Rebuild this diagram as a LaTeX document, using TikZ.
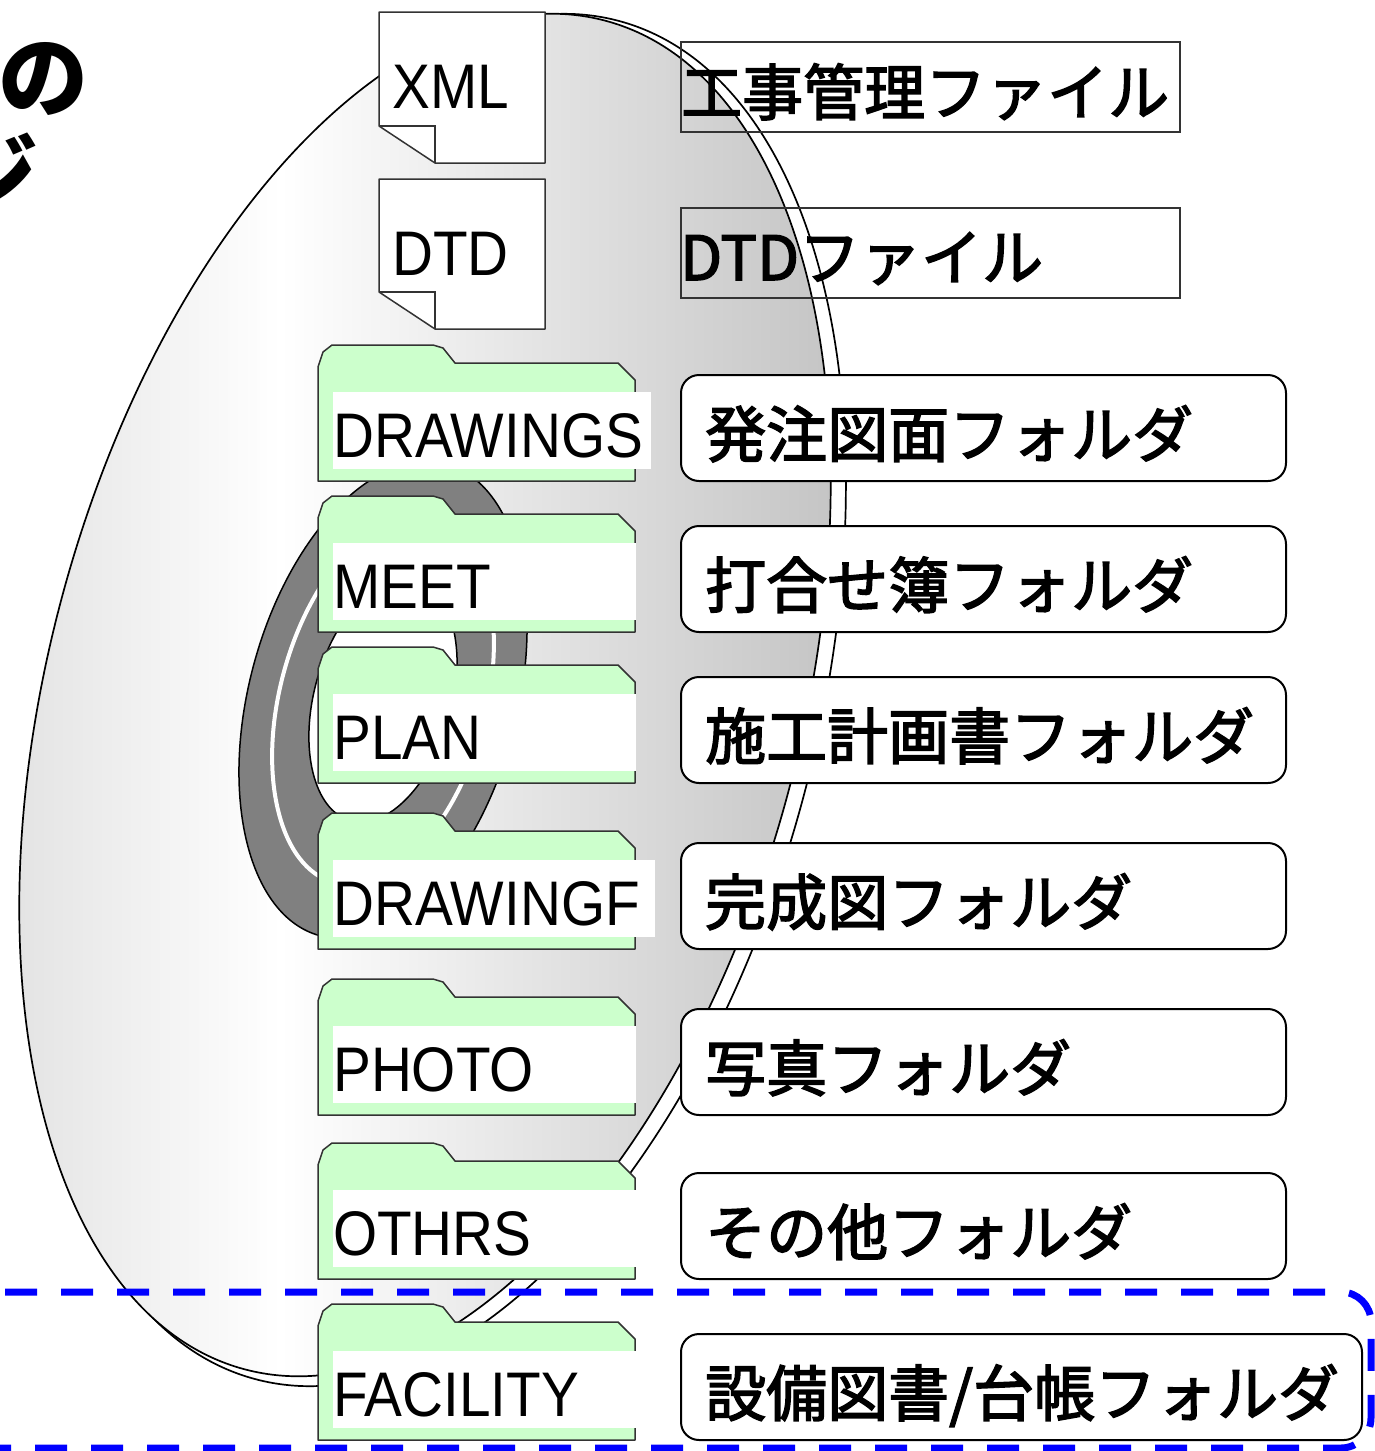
\documentclass[tikz,border=0pt]{standalone}
\usepackage{fontspec}
\setmainfont{Liberation Sans}
\newfontfamily\latinfont{Liberation Sans}[FakeStretch=0.9]
\newfontfamily\jpfont{Noto Sans CJK JP}
\newfontfamily\jplabelfont{Noto Sans CJK JP}[FakeBold=2.5]

\definecolor{foldergreen}{HTML}{CCFFCC}
\definecolor{hubgray}{HTML}{808080}
\definecolor{discdark}{HTML}{C2C2C2}
\definecolor{discleft}{HTML}{E2E2E2}
\definecolor{edgegray}{HTML}{333333}

\tikzset{
  folderbox/.style={fill=foldergreen, draw=edgegray, line width=1.5pt, line join=round},
  tagbox/.style={fill=white},
  docpaper/.style={fill=white, draw=edgegray, line width=1.5pt, line join=round},
  foldline/.style={draw=edgegray, line width=1.5pt},
  latintext/.style={anchor=base west, inner sep=0pt, font=\latinfont\fontsize{63}{70}\selectfont},
  filebox/.style={draw=edgegray, line width=2pt},
  labelbox/.style={fill=white, draw=black, line width=2pt, rounded corners=18pt},
  labeltext/.style={anchor=base west, inner sep=0pt, font=\jplabelfont\fontsize{61}{70}\selectfont},
  titletext/.style={anchor=base west, inner sep=0pt, font=\jpfont\bfseries\fontsize{90}{100}\selectfont},
  discline/.style={draw=black, line width=1.7pt},
}

% folder icon: name, bottom edge, right end of the white tag, caption
\newcommand\folderat[4]{%
  \path[folderbox] (318,#2) -- (318,#2-114) -- (323,#2-129) -- (332,#2-136)
    -- (433,#2-136) -- (443,#2-133) -- (455,#2-118) -- (618,#2-118)
    -- (635,#2-101) -- (635,#2) -- cycle;
  \fill[tagbox] (333,#2-89) rectangle (#3,#2-12);
  \node[latintext] (#1) at (333,#2-24) {#4};
}
% document icon with a folded corner: name, top edge, height, caption
\newcommand\docat[4]{%
  \path[docpaper] (379,#2) -- (545,#2) -- (545,#2+#3) -- (435,#2+#3)
    -- (379,#2+#3-37) -- cycle;
  \draw[foldline] (379,#2+#3-37) -- (435,#2+#3-37) -- (435,#2+#3);
  \node[latintext] (#1) at (392,#2+96) {#4};
}
% rounded caption box: name, bottom edge, right edge, caption
\newcommand\labelat[4]{%
  \draw[labelbox] (681,#2-106) rectangle (#3,#2);
  \node[labeltext] (#1) at (705,#2-24) {#4};
}

\begin{document}
\begin{tikzpicture}[x=1pt,y=-1pt]
\useasboundingbox (0,0) rectangle (1375,1451);
\clip (0,0) rectangle (1375,1451);
\fill[white] (0,0) rectangle (1375,1451);

% disc: back rim
\path[discline, fill=white, rotate around={75:(437,700)}]
  (437,700) ellipse [x radius=703, y radius=379];
% disc: shaded face
\begin{scope}
  \clip[rotate around={75:(425,695)}] (425,695) ellipse [x radius=698, y radius=376];
  \fill[left color=discleft, right color=white] (0,0) rectangle (281,1451);
  \fill[left color=white, right color=discdark] (280,0) rectangle (860,1451);
\end{scope}
\path[discline, rotate around={75:(425,695)}]
  (425,695) ellipse [x radius=698, y radius=376];

% centre hub
\path[fill=hubgray, draw=black, line width=1.5pt, rotate around={75:(383,700)}]
  (383,700) ellipse [x radius=244, y radius=134];
\draw[white, line width=4pt, rotate around={75:(383,700)}]
  (383,700) ellipse [x radius=189, y radius=103];
\path[fill=white, draw=black, line width=1.5pt, rotate around={75:(383,700)}]
  (383,700) ellipse [x radius=125, y radius=69];

% file icons
\docat{xmldoc}{12}{151}{XML}
\docat{dtddoc}{179}{150}{DTD}

% file captions
\draw[filebox] (681,42) rectangle (1180,132);
\node[labeltext] (xmlname) at (681,115) {工事管理ファイル};
\draw[filebox] (681,208) rectangle (1180,298);
\node[labeltext] (dtdname) at (680,280) {DTDファイル};

% folders
\folderat{drawings}{481}{651}{DRAWINGS}
\folderat{meet}{632}{636}{MEET}
\folderat{plan}{783}{636}{PLAN}
\folderat{drawingf}{949}{655}{DRAWINGF}
\folderat{photo}{1115}{636}{PHOTO}
\folderat{othrs}{1279}{636}{OTHRS}
\folderat{facility}{1440}{636}{FACILITY}

% folder captions
\labelat{drawingsname}{481}{1286}{発注図面フォルダ}
\labelat{meetname}{632}{1286}{打合せ簿フォルダ}
\labelat{planname}{783}{1286}{施工計画書フォルダ}
\labelat{drawingfname}{949}{1286}{完成図フォルダ}
\labelat{photoname}{1115}{1286}{写真フォルダ}
\labelat{othrsname}{1279}{1286}{その他フォルダ}
\labelat{facilityname}{1440}{1362}{設備図書/台帳フォルダ}

% heading
\node[titletext] (headA) at (-2,110) {の};
\node[titletext] (headB) at (-52,207) {ジ};

% highlighted group
\draw[blue, line width=7pt, dash pattern=on 32pt off 24pt, dash phase=19pt, rounded corners=30pt]
  (-200,1292) -- (1371,1292) -- (1371,1448) -- (-200,1448);
\end{tikzpicture}
\end{document}
